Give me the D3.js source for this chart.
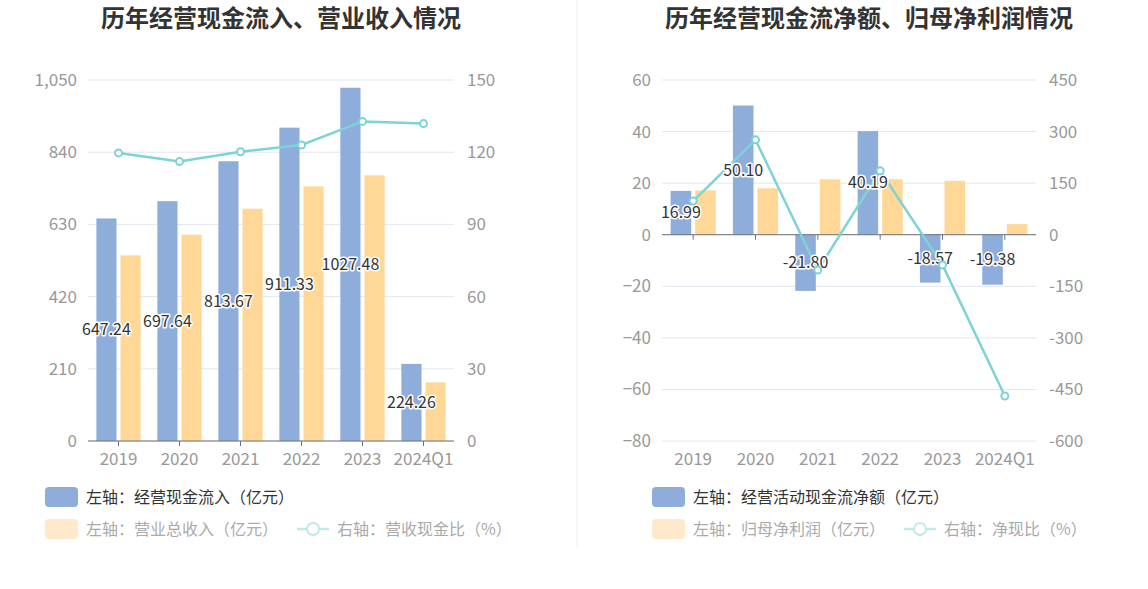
<!DOCTYPE html>
<html>
<head>
<meta charset="utf-8">
<script src="https://cdn.jsdelivr.net/npm/d3@7"></script>
<style>
  body { margin: 0; background: #fff; }
  svg { display: block; font-family: "Noto Sans CJK SC", "Noto Sans", sans-serif; }
</style>
</head>
<body>
<div id="chart"></div>
<script>
// categories shared by both charts
const years = ["2019", "2020", "2021", "2022", "2023", "2024Q1"];

// left chart: cash inflow, revenue, ratio
const cashIn = [647.24, 697.64, 813.67, 911.33, 1027.48, 224.26];
const revenue = [540, 600, 675.8, 740.7, 772.7, 170.6];
const cashRatio = [119.7, 116.1, 120.2, 123.0, 132.8, 131.9];
const leftTicksL = [0, 210, 420, 630, 840, 1050];
const leftTicksR = [0, 30, 60, 90, 120, 150];

// right chart: net operating cash flow, net profit, ratio
const netCash = [16.99, 50.10, -21.80, 40.19, -18.57, -19.38];
const netProfit = [17.2, 18.0, 21.5, 21.5, 20.9, 4.1];
const netRatio = [98, 276, -102.8, 186, -88, -469];
const rightTicksL = [-80, -60, -40, -20, 0, 20, 40, 60];
const rightTicksR = [-600, -450, -300, -150, 0, 150, 300, 450];

const BLUE = "#8eaddb", YELLOW = "#ffd897", TEAL = "#7dd3d5";

const svg = d3.select("#chart").append("svg")
    .attr("width", 1148).attr("height", 589);

// divider between the two panels
svg.append("line")
    .attr("x1", 577).attr("x2", 577).attr("y1", 0).attr("y2", 549)
    .attr("stroke", "#eeeeee");

function drawChart(cfg) {
    const g = svg.append("g");

    g.append("text")
        .attr("x", cfg.titleX).attr("y", 27)
        .attr("text-anchor", "middle")
        .attr("font-size", "24px").attr("font-weight", "bold")
        .attr("fill", "#333")
        .text(cfg.title);

    const x = d3.scaleBand().domain(years).range([cfg.x0, cfg.x1]);
    const yL = d3.scaleLinear().domain(cfg.domL).range([441, 80]);
    const yR = d3.scaleLinear().domain(cfg.domR).range([441, 80]);

    // grid lines
    g.selectAll(".grid").data(cfg.ticksL).join("line")
        .attr("x1", cfg.x0).attr("x2", cfg.x1)
        .attr("y1", d => yL(d)).attr("y2", d => yL(d))
        .attr("stroke", "#e3e7f1").attr("stroke-width", 1);

    // left axis labels
    g.selectAll(".tl").data(cfg.ticksL).join("text")
        .attr("x", cfg.x0 - 11).attr("y", d => yL(d))
        .attr("dy", "0.35em").attr("text-anchor", "end")
        .attr("font-size", "17px").attr("fill", "#999")
        .text(d => d3.format(",")(d));

    // right axis labels
    g.selectAll(".tr").data(cfg.ticksR).join("text")
        .attr("x", cfg.x1 + 13).attr("y", d => yR(d))
        .attr("dy", "0.35em").attr("text-anchor", "start")
        .attr("font-size", "17px").attr("fill", "#999")
        .text(d => d);

    const bw = x.bandwidth() * 0.33, gap = 4;

    // bars
    g.selectAll(".b1").data(cfg.bars1).join("rect")
        .attr("x", (d, i) => x(years[i]) + x.bandwidth() / 2 - gap / 2 - bw)
        .attr("width", bw)
        .attr("y", d => yL(Math.max(0, d)))
        .attr("height", d => Math.abs(yL(d) - yL(0)))
        .attr("fill", BLUE);
    g.selectAll(".b2").data(cfg.bars2).join("rect")
        .attr("x", (d, i) => x(years[i]) + x.bandwidth() / 2 + gap / 2)
        .attr("width", bw)
        .attr("y", d => yL(Math.max(0, d)))
        .attr("height", d => Math.abs(yL(d) - yL(0)))
        .attr("fill", YELLOW);

    // x axis line at zero with ticks
    const zy = yL(0);
    g.append("line")
        .attr("x1", cfg.x0).attr("x2", cfg.x1).attr("y1", zy).attr("y2", zy)
        .attr("stroke", "#6e7079").attr("stroke-width", 1);
    g.selectAll(".tick").data(years).join("line")
        .attr("x1", d => x(d) + x.bandwidth() / 2).attr("x2", d => x(d) + x.bandwidth() / 2)
        .attr("y1", zy).attr("y2", zy + 5)
        .attr("stroke", "#6e7079");

    g.selectAll(".xl").data(years).join("text")
        .attr("x", d => x(d) + x.bandwidth() / 2).attr("y", 459)
        .attr("dy", "0.35em").attr("text-anchor", "middle")
        .attr("font-size", "17px").attr("fill", "#999")
        .text(d => d);

    // ratio line
    const line = d3.line()
        .x((d, i) => x(years[i]) + x.bandwidth() / 2)
        .y(d => yR(d));
    g.append("path").datum(cfg.line)
        .attr("d", line).attr("fill", "none")
        .attr("stroke", TEAL).attr("stroke-width", 2.5);

    // bar value labels (at bar middle)
    g.selectAll(".vl").data(cfg.bars1).join("text")
        .attr("x", (d, i) => x(years[i]) + x.bandwidth() / 2 - gap / 2 - bw / 2)
        .attr("y", d => (yL(d) + yL(0)) / 2)
        .attr("dy", "0.35em").attr("text-anchor", "middle")
        .attr("font-size", "16px").attr("fill", "#333")
        .attr("stroke", "#fff").attr("stroke-width", 3).attr("paint-order", "stroke")
        .attr("stroke-linejoin", "round")
        .text(d => d.toFixed(2));

    g.selectAll(".pt").data(cfg.line).join("circle")
        .attr("cx", (d, i) => x(years[i]) + x.bandwidth() / 2)
        .attr("cy", d => yR(d))
        .attr("r", 3.5)
        .attr("fill", "#fff").attr("stroke", TEAL).attr("stroke-width", 2);

    // legend
    const lx = cfg.legendX;
    g.append("rect").attr("x", lx).attr("y", 487).attr("width", 33).attr("height", 20)
        .attr("rx", 4).attr("fill", BLUE);
    g.append("text").attr("x", lx + 41).attr("y", 497).attr("dy", "0.35em")
        .attr("font-size", "16px").attr("fill", "#333").text(cfg.legend[0]);

    g.append("rect").attr("x", lx).attr("y", 519).attr("width", 33).attr("height", 20)
        .attr("rx", 4).attr("fill", "#feeacb");
    const t2 = g.append("text").attr("x", lx + 41).attr("y", 529).attr("dy", "0.35em")
        .attr("font-size", "16px").attr("fill", "#aaa").text(cfg.legend[1]);
    const w2 = t2.node().getComputedTextLength();
    const ix = lx + 41 + w2 + 19;
    g.append("line").attr("x1", ix).attr("x2", ix + 32).attr("y1", 529).attr("y2", 529)
        .attr("stroke", "#bfe9ea").attr("stroke-width", 2.5);
    g.append("circle").attr("cx", ix + 16).attr("cy", 529).attr("r", 6)
        .attr("fill", "#fff").attr("stroke", "#bfe9ea").attr("stroke-width", 2);
    g.append("text").attr("x", ix + 40).attr("y", 529).attr("dy", "0.35em")
        .attr("font-size", "16px").attr("fill", "#aaa").text(cfg.legend[2]);
}

drawChart({
    title: "历年经营现金流入、营业收入情况", titleX: 281,
    x0: 88, x1: 454, domL: [0, 1050], domR: [0, 150],
    ticksL: leftTicksL, ticksR: leftTicksR,
    bars1: cashIn, bars2: revenue, line: cashRatio,
    legendX: 45,
    legend: ["左轴：经营现金流入（亿元）", "左轴：营业总收入（亿元）", "右轴：营收现金比（%）"]
});

drawChart({
    title: "历年经营现金流净额、归母净利润情况", titleX: 869,
    x0: 662, x1: 1036, domL: [-80, 60], domR: [-600, 450],
    ticksL: rightTicksL, ticksR: rightTicksR,
    bars1: netCash, bars2: netProfit, line: netRatio,
    legendX: 652,
    legend: ["左轴：经营活动现金流净额（亿元）", "左轴：归母净利润（亿元）", "右轴：净现比（%）"]
});
</script>
</body>
</html>
